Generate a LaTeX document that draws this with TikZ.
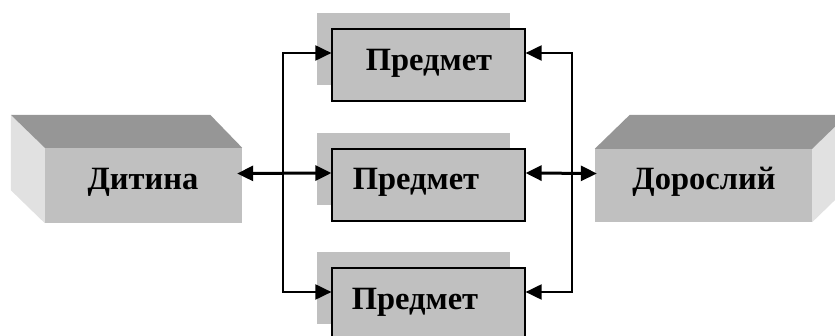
\documentclass[tikz,border=0pt]{standalone}
\usepackage{fontspec}
\setmainfont{Liberation Serif}
\usetikzlibrary{arrows.meta,calc,shadows}
\definecolor{facecol}{HTML}{C0C0C0}
\definecolor{topcol}{HTML}{969696}
\definecolor{sidecol}{HTML}{E1E1E1}
\begin{document}
\begin{tikzpicture}[x=1pt,y=-1pt,
  frontface/.style={fill=facecol, draw=none, inner sep=0pt},
  itembox/.style={fill=facecol, draw=black, line width=1.2pt, inner sep=0pt,
    minimum width=193pt, minimum height=72pt,
    copy shadow={shadow xshift=-15pt, shadow yshift=16pt, fill=facecol, draw=none}},
  lbl/.style={anchor=base, inner sep=0pt, font=\fontsize{32.5}{38}\selectfont\bfseries},
  tipx/.tip={Triangle[length=16pt,width=15pt]},
  conn/.style={line width=2pt, {tipx}-{tipx}},
  mainconn/.style={line width=3pt, {tipx}-{tipx}}
]
\useasboundingbox (0,0) rectangle (835,336);
\clip (0,0) rectangle (835,336);

% left 3D box
\node[frontface, minimum width=197pt, minimum height=75pt] (child) at (143.5,185.5) {};
\fill[sidecol] ($(child.north west)+(-34,-33)$) -- (child.north west) -- (child.south west) -- ($(child.south west)+(-34,-33)$) -- cycle;
\fill[topcol] ($(child.north west)+(-34,-33)$) -- ($(child.north east)+(-32,-33)$) -- (child.north east) -- (child.north west) -- cycle;
\node[lbl] (childtxt) at (143,190) {Дитина};

% right 3D box
\node[frontface, minimum width=217pt, minimum height=73pt] (adult) at (703.5,185.5) {};
\fill[sidecol] (adult.north east) -- ($(adult.north east)+(35,-34)$) -- ($(adult.south east)+(35,-34)$) -- (adult.south east) -- cycle;
\fill[topcol] (adult.north west) -- ($(adult.north west)+(35,-34)$) -- ($(adult.north east)+(35,-34)$) -- (adult.north east) -- cycle;
\node[lbl] (adulttxt) at (704,190) {Дорослий};

% item boxes
\node[itembox] (p1) at (428.5,65) {};
\node[itembox] (p2) at (428.5,185) {};
\node[itembox] (p3) at (428.5,304) {};
\node[lbl] (t1) at (429,71) {Предмет};
\node[lbl] (t2) at (416,190) {Предмет};
\node[lbl] (t3) at (415,310) {Предмет};

% connector points
\coordinate (a1) at ([yshift=12pt]p1.west);
\coordinate (a2) at ([yshift=12pt]p2.west);
\coordinate (a3) at ([yshift=12pt]p3.west);
\coordinate (b1) at ([yshift=12pt]p1.east);
\coordinate (b2) at ([yshift=12pt]p2.east);
\coordinate (b3) at ([yshift=12pt]p3.east);
\coordinate (L) at (283,0);
\coordinate (R) at (572,0);

\draw[conn] (a1) -- (a1 -| L) -- (a3 -| L) -- (a3);
\draw[conn] (b1) -- (b1 -| R) -- (b3 -| R) -- (b3);
\draw[mainconn] ([xshift=-5pt,yshift=12pt]child.east) -- (a2);
\draw[mainconn] (b2) -- ([xshift=2pt,yshift=12pt]adult.west);
\end{tikzpicture}
\end{document}
